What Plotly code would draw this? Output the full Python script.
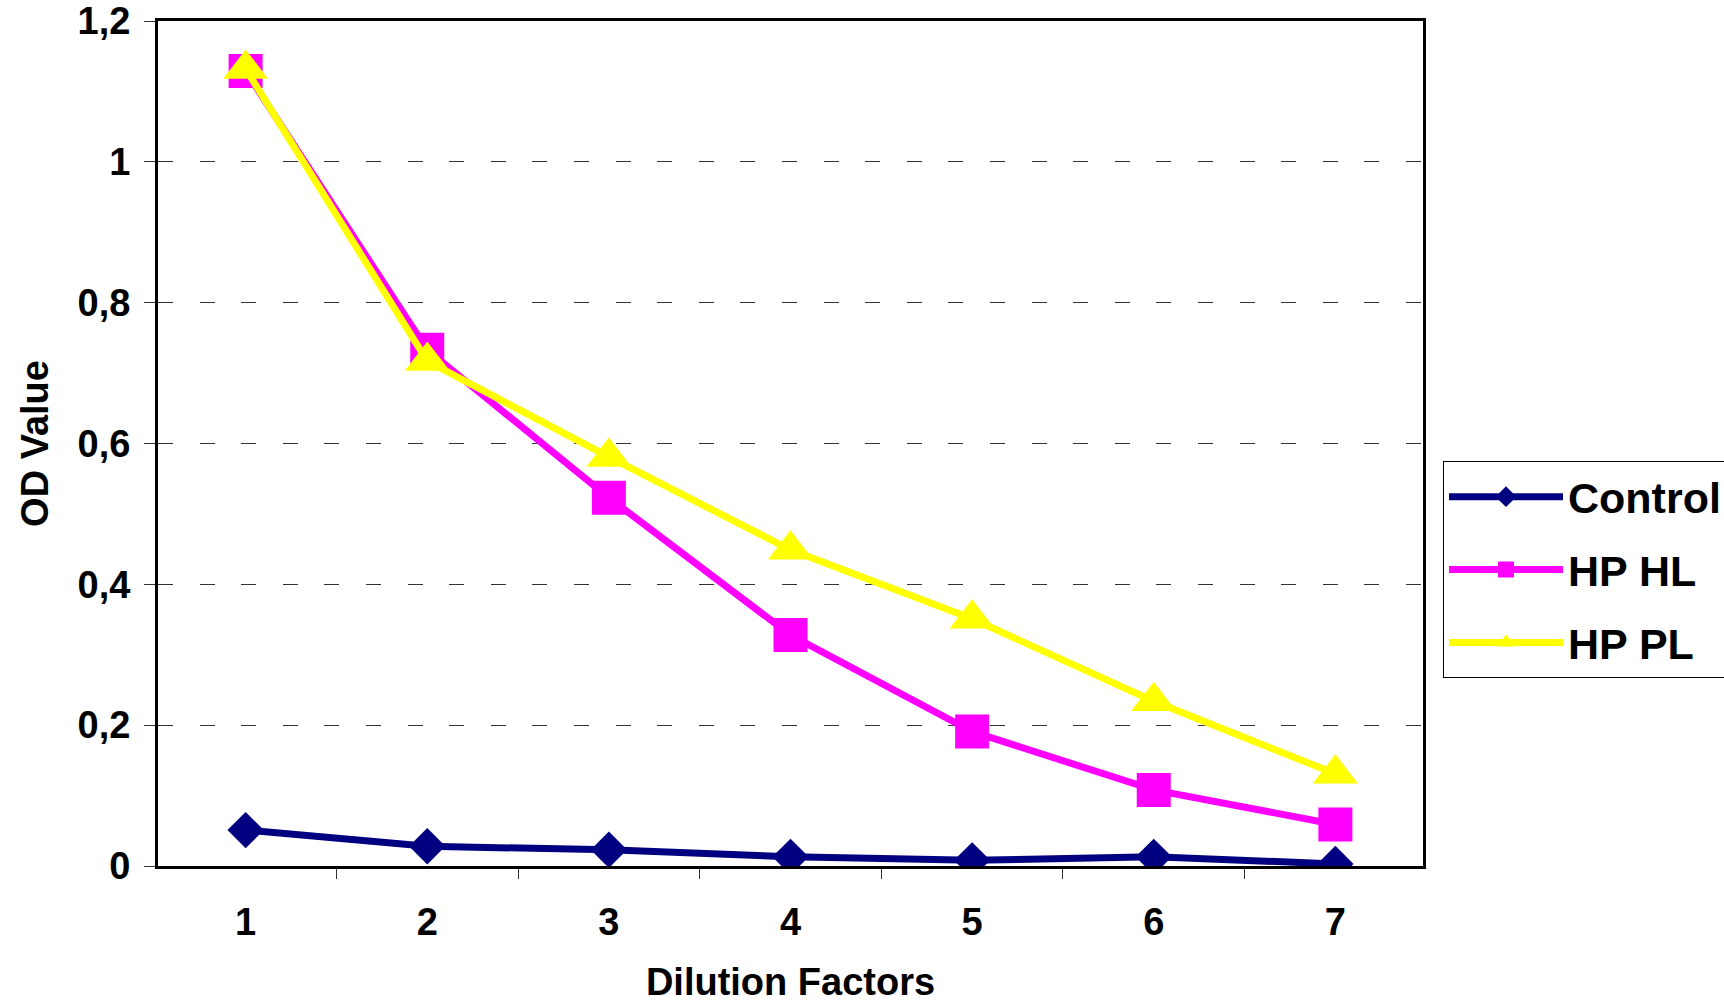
import plotly.graph_objects as go

dilution = ["1", "2", "3", "4", "5", "6", "7"]
control = [0.051, 0.028, 0.023, 0.013, 0.008, 0.013, 0.003]
hp_hl = [1.129, 0.733, 0.523, 0.328, 0.191, 0.108, 0.059]
hp_pl = [1.132, 0.717, 0.581, 0.449, 0.351, 0.234, 0.131]

y_ticks = [0, 0.2, 0.4, 0.6, 0.8, 1.0, 1.2]

FONT = "Arial, 'Liberation Sans', sans-serif"

fig = go.Figure()
series = [
    ("Control", control, "#000080", "diamond", 28),
    ("HP HL", hp_hl, "#FF00FF", "square", 34),
    ("HP PL", hp_pl, "#FFFF00", "triangle-up", 39),
]
for name, vals, col, sym, sz in series:
    fig.add_trace(go.Scatter(
        x=dilution, y=vals, name=name, mode="lines+markers",
        line=dict(color=col, width=7),
        marker=dict(symbol=sym, size=sz, color=col, line=dict(width=0)),
        legendgroup=name,
    ))

fig.update_layout(
    width=1724, height=1003,
    margin=dict(l=158, r=301, t=21, b=137, autoexpand=False),
    paper_bgcolor="white", plot_bgcolor="white",
    separators=", ",
    font=dict(family=FONT, size=38, color="black", weight="bold"),
    showlegend=True,
    legend=dict(
        x=1.0158, y=0.479, xanchor="left", yanchor="top",
        bgcolor="white", bordercolor="#000000", borderwidth=1,
        font=dict(family=FONT, size=43, color="black", weight="bold"),
        itemwidth=114, tracegroupgap=14,
    ),
)

fig.update_xaxes(
    type="category", tickson="boundaries",
    ticks="outside", ticklen=10, tickwidth=1, tickcolor="#333333",
    showline=True, linecolor="black", linewidth=3, mirror=True,
    showgrid=False, zeroline=False,
    tickfont=dict(family=FONT, size=38, weight="bold"),
    ticklabelstandoff=20,
    automargin=True,
    title=dict(text="Dilution Factors", font=dict(family=FONT, size=38, weight="bold"), standoff=29),
)
fig.update_yaxes(
    range=[0, 1.2], tickvals=y_ticks,
    ticks="outside", ticklen=11, tickwidth=1, tickcolor="#333333",
    showline=True, linecolor="black", linewidth=3, mirror=True,
    showgrid=True, gridcolor="#333333", gridwidth=1, griddash="15px,26.6px",
    zeroline=False,
    tickfont=dict(family=FONT, size=38, weight="bold"),
    ticklabelstandoff=6,
    title=dict(text="OD Value", font=dict(family=FONT, size=38, weight="bold"), standoff=18),
)

fig.write_html("out.html")
